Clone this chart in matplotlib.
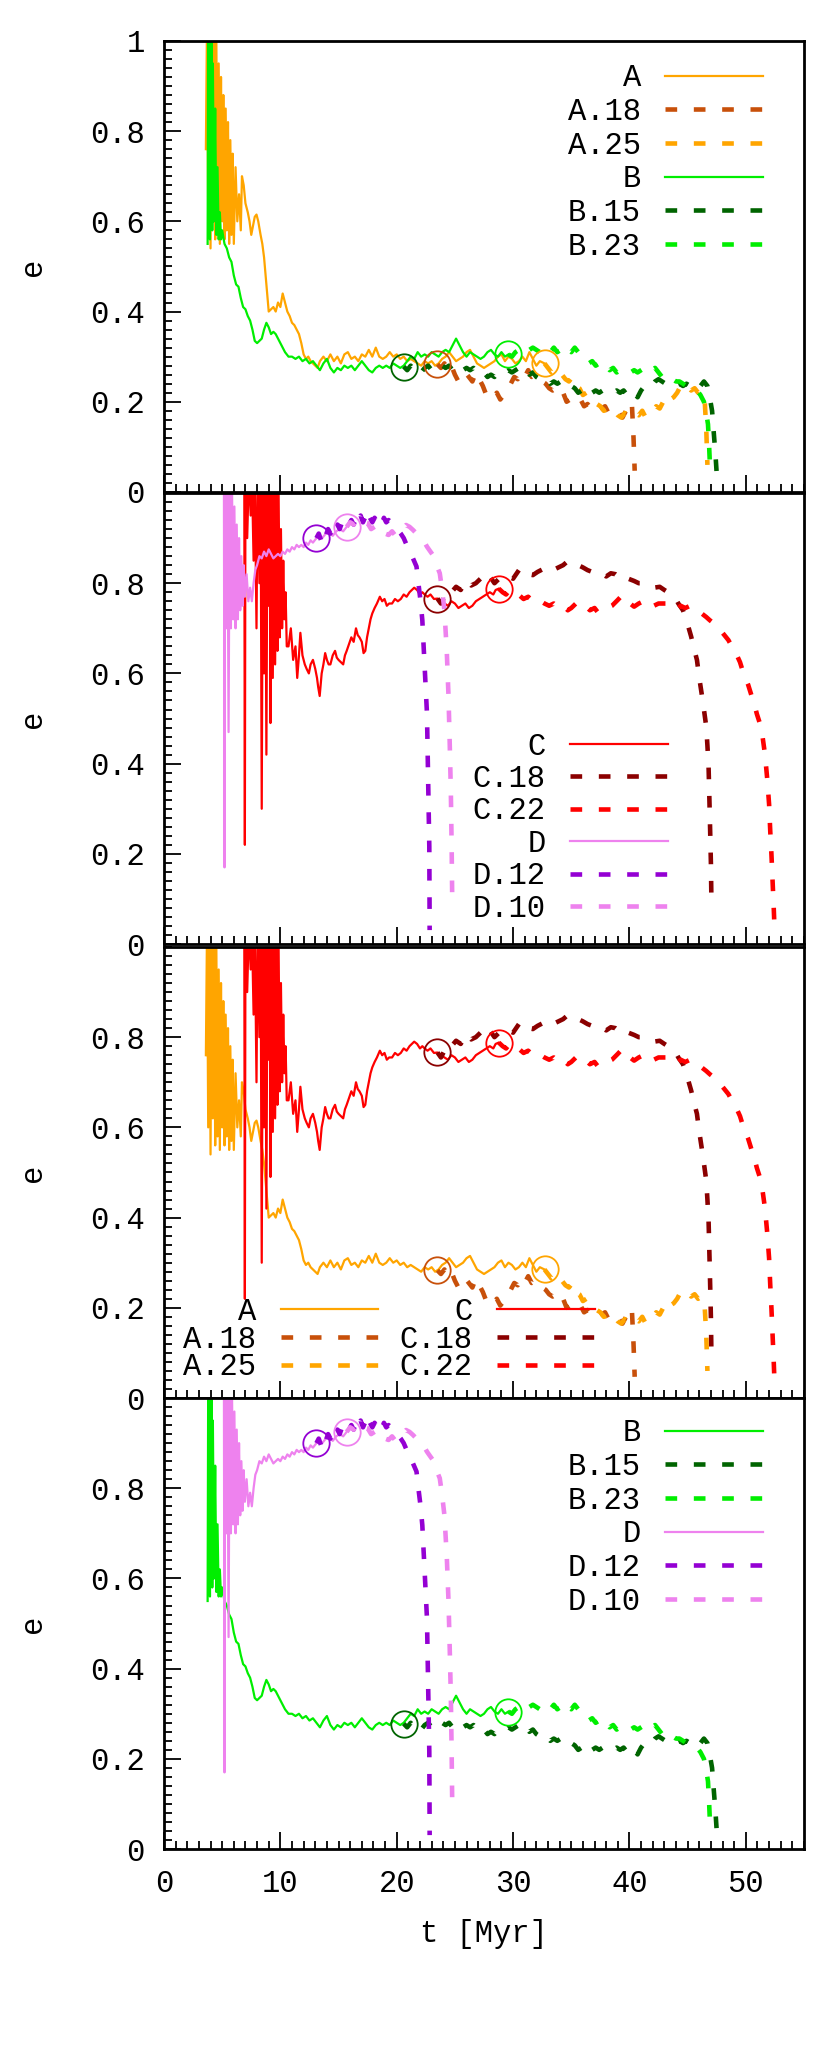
import matplotlib
matplotlib.use('Agg')
import matplotlib.pyplot as plt
from matplotlib.ticker import MultipleLocator, FixedLocator, FuncFormatter

plt.rcParams['font.family'] = ['Liberation Mono', 'DejaVu Sans Mono']
plt.rcParams['font.size'] = 22
plt.rcParams['lines.scale_dashes'] = False   # dash lengths in points

# ---------------- data (t in Myr, e) ----------------

# run A (orange, solid)
A_t = [3.6, 3.7, 3.8, 3.9, 4.0, 4.1, 4.2, 4.3, 4.4, 4.5,
       4.6, 4.7, 4.8, 4.9, 5.0, 5.1, 5.2, 5.3, 5.4, 5.5,
       5.6, 5.7, 5.8, 5.9, 6.0,
       6.15, 6.3, 6.45, 6.6, 6.7, 6.85, 7.0,
       7.2, 7.35, 7.5, 7.65, 7.8, 7.95, 8.1,
       8.3, 8.45, 8.6, 8.8, 9.0,
       9.2, 9.4, 9.6, 9.8, 10.0, 10.2, 10.4, 10.6, 10.8, 11.0,
       11.2, 11.4, 11.6, 11.8, 12.0, 12.2, 12.4, 12.6, 12.8, 13.0,
       13.2, 13.4,
       13.7, 14.0, 14.3, 14.6, 14.9, 15.2, 15.5, 15.8, 16.1, 16.4,
       16.7, 17.0, 17.3, 17.6, 17.9, 18.2, 18.5, 18.8, 19.1, 19.4,
       19.7, 20.0, 20.3, 20.6, 20.9, 21.2, 21.5, 21.8, 22.1, 22.4,
       22.7, 23.0, 23.3, 23.6, 23.9, 24.2, 24.5, 24.8, 25.1, 25.4,
       25.7, 26.0, 26.3, 26.6, 26.9, 27.2, 27.5, 27.8, 28.1, 28.4,
       28.7, 29.0, 29.3, 29.6, 29.9, 30.2, 30.5, 30.8, 31.1, 31.4,
       31.7, 32.0, 32.3,
       32.7]
A_e = [0.76, 1.05, 0.6, 1.05, 0.54, 1.05, 0.62, 1.05, 0.56, 1.0,
       0.58, 0.95, 0.55, 0.92, 0.6, 0.88, 0.56, 0.85, 0.58, 0.82,
       0.55, 0.78, 0.57, 0.75, 0.55,
       0.72, 0.6, 0.66, 0.58, 0.70, 0.68, 0.64,
       0.62, 0.60, 0.57, 0.59, 0.61, 0.615, 0.60,
       0.57, 0.55, 0.52, 0.46, 0.40,
       0.405, 0.41, 0.40, 0.42, 0.41, 0.44, 0.42, 0.40, 0.39, 0.375,
       0.37, 0.36, 0.35, 0.33, 0.305, 0.295, 0.30, 0.29, 0.285, 0.28,
       0.275, 0.29,
       0.30, 0.29, 0.305, 0.29, 0.30, 0.285, 0.305, 0.31, 0.295, 0.30,
       0.29, 0.305, 0.30, 0.315, 0.30, 0.32, 0.30, 0.295, 0.30, 0.31,
       0.30, 0.305, 0.295, 0.30, 0.29, 0.295, 0.29, 0.285, 0.28, 0.29,
       0.285, 0.29, 0.28, 0.285, 0.295, 0.30, 0.31, 0.30, 0.29, 0.295,
       0.30, 0.31, 0.315, 0.30, 0.285, 0.28, 0.275, 0.28, 0.285, 0.29,
       0.30, 0.305, 0.29, 0.30, 0.295, 0.285, 0.29, 0.30, 0.29, 0.31,
       0.295, 0.28, 0.29,
       0.285]

# branch A.18 (brown, dashed)
A18_t = [23.5, 23.8, 24.1, 24.4, 24.7, 25.0, 25.3, 25.6, 25.9, 26.2,
         26.5, 26.8, 27.1, 27.4, 27.7, 28.0, 28.3, 28.6, 28.9, 29.2,
         29.5, 29.8, 30.1, 30.4, 30.7, 31.0, 31.3, 31.6, 31.9, 32.2,
         32.5, 32.8, 33.1, 33.4, 33.7, 34.0, 34.3, 34.6, 34.9, 35.2,
         35.5, 35.8, 36.1, 36.4, 36.7, 37.0, 37.3, 37.6, 37.9, 38.2,
         38.5, 38.8, 39.1, 39.4, 39.7, 40.0,
         40.2, 40.35, 40.45]
A18_e = [0.283, 0.275, 0.285, 0.27, 0.28, 0.26, 0.245, 0.25, 0.265, 0.255,
         0.245, 0.265, 0.25, 0.235, 0.215, 0.22, 0.21, 0.22, 0.205, 0.215,
         0.225, 0.24, 0.255, 0.25, 0.265, 0.255, 0.27, 0.255, 0.26, 0.25,
         0.245, 0.24, 0.23, 0.225, 0.23, 0.215, 0.22, 0.20, 0.205, 0.195,
         0.20, 0.205, 0.19, 0.195, 0.185, 0.19, 0.18, 0.185, 0.19, 0.175,
         0.18, 0.17, 0.175, 0.165, 0.18, 0.195,
         0.20, 0.12, 0.047]

# branch A.25 (orange, dashed)
A25_t = [32.7,
         33.0, 33.3, 33.6, 33.9, 34.2, 34.5, 34.8, 35.1, 35.4, 35.7,
         36.0, 36.3, 36.6, 36.9, 37.2, 37.5, 37.8, 38.1, 38.4, 38.7,
         39.0, 39.3, 39.6, 39.9, 40.2, 40.5, 40.8, 41.1, 41.4, 41.7,
         42.0, 42.3, 42.6, 42.9, 43.2, 43.5, 43.8, 44.1, 44.4, 44.7,
         45.0, 45.3, 45.6, 45.9, 46.2,
         46.45, 46.6, 46.7]
A25_e = [0.285,
         0.275, 0.265, 0.27, 0.255, 0.26, 0.25, 0.245, 0.255, 0.235, 0.23,
         0.215, 0.22, 0.205, 0.20, 0.195, 0.19, 0.18, 0.185, 0.175, 0.18,
         0.17, 0.165, 0.175, 0.17, 0.18, 0.175, 0.17, 0.18, 0.165, 0.175,
         0.18, 0.19, 0.185, 0.20, 0.19, 0.205, 0.21, 0.22, 0.235, 0.24,
         0.235, 0.225, 0.23, 0.22, 0.225,
         0.21, 0.14, 0.06]

# run B (green, solid)
B_t = [3.75, 3.8, 3.85, 3.9, 3.95, 4.0, 4.05, 4.1, 4.15, 4.2,
       4.3, 4.4, 4.5, 4.6, 4.7, 4.8, 4.9, 5.0,
       5.2, 5.4, 5.6, 5.8, 6.0, 6.2, 6.4, 6.6, 6.8, 7.0,
       7.2, 7.4, 7.6, 7.8, 8.0, 8.2, 8.4, 8.6, 8.8, 9.0,
       9.2, 9.4, 9.6, 9.8, 10.0,
       10.4, 10.7, 11.0, 11.3, 11.6, 11.9, 12.2, 12.5, 12.8, 13.1,
       13.4, 13.7, 14.0, 14.3, 14.6, 14.9, 15.2, 15.5, 15.8, 16.1,
       16.4, 16.7, 17.0, 17.3, 17.6, 17.9, 18.2, 18.5, 18.8, 19.1,
       19.4, 19.7, 20.0, 20.3, 20.6, 20.9, 21.2, 21.5, 21.8, 22.1,
       22.4, 22.7, 23.0, 23.3, 23.6, 23.9, 24.2, 24.5, 24.8, 25.1,
       25.4, 25.7, 26.0, 26.3, 26.6, 26.9, 27.2, 27.5, 27.8, 28.1,
       28.4, 28.7, 29.0, 29.3, 29.6]
B_e = [0.55, 1.05, 0.6, 1.05, 0.56, 1.05, 0.62, 1.05, 0.58, 0.95,
       0.6, 0.85, 0.57, 0.72, 0.56, 0.62, 0.56, 0.58,
       0.55, 0.54, 0.52, 0.51, 0.48, 0.46, 0.455, 0.43, 0.41, 0.405,
       0.39, 0.38, 0.36, 0.335, 0.33, 0.335, 0.34, 0.36, 0.375, 0.365,
       0.35, 0.355, 0.35, 0.34, 0.33,
       0.31, 0.30, 0.30, 0.295, 0.30, 0.29, 0.295, 0.285, 0.29, 0.28,
       0.27, 0.285, 0.295, 0.275, 0.265, 0.275, 0.27, 0.28, 0.275, 0.28,
       0.27, 0.28, 0.29, 0.28, 0.27, 0.265, 0.275, 0.28, 0.275, 0.28,
       0.275, 0.285, 0.28, 0.275, 0.28, 0.29, 0.30, 0.295, 0.31, 0.30,
       0.305, 0.30, 0.31, 0.305, 0.30, 0.31, 0.315, 0.31, 0.325, 0.34,
       0.325, 0.31, 0.30, 0.31, 0.305, 0.30, 0.295, 0.30, 0.31, 0.315,
       0.305, 0.30, 0.31, 0.30, 0.305]

# branch B.15 (dark green, dashed)
B15_t = [20.6, 20.9, 21.2, 21.5, 21.8, 22.1, 22.4, 22.7, 23.0, 23.3,
         23.6, 23.9, 24.2, 24.5, 24.8, 25.1, 25.4, 25.7, 26.0, 26.3,
         26.6, 26.9, 27.2, 27.5, 27.8, 28.1, 28.4, 28.7, 29.0, 29.3,
         29.6, 29.9, 30.2, 30.5, 30.8, 31.1, 31.4, 31.7, 32.0, 32.3,
         32.6, 32.9, 33.2, 33.5, 33.8, 34.1, 34.4, 34.7, 35.0, 35.3,
         35.6, 35.9, 36.2, 36.5, 36.8, 37.1, 37.4, 37.7, 38.0, 38.3,
         38.6, 38.9, 39.2, 39.5, 39.8, 40.1, 40.4, 40.7, 41.0, 41.3,
         41.6, 41.9, 42.2, 42.5, 42.8, 43.1, 43.4, 43.7, 44.0, 44.3,
         44.6, 44.9, 45.2, 45.5, 45.8, 46.1, 46.4,
         46.7, 46.9, 47.1, 47.25, 47.4, 47.5]
B15_e = [0.278, 0.27, 0.28, 0.27, 0.275, 0.265, 0.275, 0.28, 0.27, 0.275,
         0.27, 0.28, 0.275, 0.28, 0.27, 0.275, 0.28, 0.27, 0.275, 0.27,
         0.275, 0.265, 0.26, 0.265, 0.255, 0.26, 0.255, 0.265, 0.26, 0.265,
         0.27, 0.265, 0.27, 0.275, 0.265, 0.27, 0.26, 0.265, 0.255, 0.25,
         0.245, 0.25, 0.24, 0.245, 0.24, 0.245, 0.235, 0.24, 0.235, 0.23,
         0.22, 0.225, 0.215, 0.225, 0.22, 0.225, 0.22, 0.225, 0.22, 0.225,
         0.22, 0.225, 0.22, 0.225, 0.215, 0.225, 0.22, 0.21, 0.225, 0.235,
         0.24, 0.235, 0.245, 0.25, 0.245, 0.24, 0.245, 0.24, 0.235, 0.24,
         0.235, 0.24, 0.235, 0.23, 0.225, 0.235, 0.245,
         0.235, 0.21, 0.18, 0.13, 0.08, 0.04]

# branch B.23 (green, dashed)
B23_t = [29.6, 29.9, 30.2, 30.5, 30.8, 31.1, 31.4, 31.7, 32.0, 32.3,
         32.6, 32.9, 33.2, 33.5, 33.8, 34.1, 34.4, 34.7, 35.0, 35.3,
         35.6, 35.9, 36.2, 36.5, 36.8, 37.1, 37.4, 37.7, 38.0, 38.3,
         38.6, 38.9, 39.2, 39.5, 39.8, 40.1, 40.4, 40.7, 41.0, 41.3,
         41.6, 41.9, 42.2, 42.5, 42.8, 43.1, 43.4, 43.7, 44.0, 44.3,
         44.6, 44.9, 45.2, 45.5, 45.8, 46.1, 46.4,
         46.6, 46.75, 46.85, 46.95]
B23_e = [0.305, 0.30, 0.31, 0.315, 0.32, 0.31, 0.315, 0.32, 0.315, 0.31,
         0.32, 0.315, 0.31, 0.32, 0.31, 0.315, 0.305, 0.315, 0.31, 0.32,
         0.31, 0.30, 0.29, 0.285, 0.29, 0.28, 0.285, 0.275, 0.28, 0.27,
         0.275, 0.265, 0.27, 0.265, 0.27, 0.265, 0.27, 0.265, 0.27, 0.275,
         0.265, 0.27, 0.275, 0.265, 0.255, 0.26, 0.25, 0.25, 0.245, 0.245,
         0.24, 0.235, 0.235, 0.23, 0.225, 0.215, 0.20,
         0.175, 0.15, 0.10, 0.04]

# run C (red, solid)
C_t = [6.9, 6.95, 7.0, 7.15, 7.3, 7.45, 7.55, 7.7, 7.8, 7.95,
       8.05, 8.2, 8.3, 8.4, 8.5, 8.6, 8.7, 8.8, 8.9, 9.0,
       9.1, 9.15, 9.25, 9.35, 9.45, 9.55, 9.65, 9.75, 9.85, 9.95,
       10.05, 10.15, 10.25, 10.35, 10.45, 10.55,
       10.7, 10.9, 11.1, 11.3, 11.45, 11.6, 11.72, 11.9, 12.1, 12.26,
       12.45, 12.6, 12.8, 13.0, 13.15, 13.25, 13.38, 13.55, 13.7, 13.85,
       14.0, 14.15, 14.3, 14.5, 14.7, 14.85, 15.0, 15.2, 15.4, 15.55,
       15.7, 15.9, 16.1, 16.3, 16.5, 16.65, 16.8, 17.0, 17.15, 17.3,
       17.45, 17.6, 17.75, 17.9, 18.1, 18.3, 18.55, 18.75, 18.95, 19.15,
       19.35, 19.6, 19.85, 20.1, 20.35, 20.6, 20.85, 21.1, 21.3, 21.5,
       21.75, 22.0, 22.2, 22.4, 22.65, 22.9, 23.2, 23.5, 23.8, 24.1,
       24.4, 24.7, 25.0, 25.3, 25.6, 25.9, 26.2, 26.5, 26.8, 27.1,
       27.4, 27.7, 28.0, 28.3, 28.5, 28.77]
C_e = [1.05, 0.22, 1.05, 0.9, 1.05, 0.95, 1.05, 0.85, 1.05, 0.7,
       1.05, 0.8, 1.05, 0.30, 1.05, 0.6, 1.05, 0.42, 1.05, 0.75,
       1.05, 0.49, 1.05, 0.59, 1.05, 0.62, 1.05, 0.65, 1.0, 0.68,
       0.92, 0.70, 0.85, 0.72, 0.78, 0.66,
       0.66, 0.70, 0.63, 0.66, 0.59, 0.64, 0.69, 0.64, 0.62, 0.61,
       0.60, 0.62, 0.63, 0.61, 0.59, 0.57, 0.55, 0.60, 0.62, 0.645,
       0.63, 0.62, 0.62, 0.64, 0.65, 0.635, 0.63, 0.625, 0.62, 0.64,
       0.65, 0.665, 0.68, 0.67, 0.70, 0.685, 0.68, 0.67, 0.645, 0.65,
       0.68, 0.70, 0.72, 0.733, 0.745, 0.755, 0.77, 0.76, 0.765, 0.75,
       0.755, 0.755, 0.765, 0.76, 0.765, 0.775, 0.77, 0.78, 0.785, 0.79,
       0.785, 0.775, 0.78, 0.775, 0.77, 0.775, 0.765, 0.766, 0.76, 0.755,
       0.75, 0.76, 0.755, 0.745, 0.75, 0.755, 0.745, 0.75, 0.76, 0.765,
       0.77, 0.775, 0.78, 0.775, 0.785, 0.788]

# branch C.18 (dark red, dashed)
C18_t = [23.5, 23.8, 24.1, 24.4, 24.7, 25.1, 25.5, 26.0, 26.4, 26.8,
         27.2, 27.6, 28.0, 28.4, 28.8, 29.2, 29.6, 30.0, 30.5, 30.9,
         31.3, 31.7, 32.1, 32.7, 33.1, 33.5, 33.9, 34.3, 34.8, 35.2,
         35.6, 36.0, 36.4, 36.8, 37.2, 37.6, 38.0, 38.4, 38.8, 39.2,
         39.5, 39.9, 40.4, 40.8, 41.3, 41.7, 42.1, 42.6, 43.0, 43.5,
         43.9, 44.2, 44.6, 44.9, 45.3, 45.6, 45.8, 46.0, 46.2, 46.4,
         46.6, 46.7, 46.8, 46.9, 47.0, 47.05]
C18_e = [0.766, 0.755, 0.77, 0.765, 0.78, 0.792, 0.785, 0.807, 0.795, 0.80,
         0.81, 0.80, 0.815, 0.80, 0.81, 0.805, 0.815, 0.81, 0.829, 0.815,
         0.82, 0.818, 0.825, 0.833, 0.825, 0.83, 0.835, 0.84, 0.851, 0.845,
         0.84, 0.835, 0.829, 0.825, 0.818, 0.822, 0.815, 0.822, 0.82, 0.812,
         0.818, 0.81, 0.805, 0.80, 0.80, 0.795, 0.79, 0.792, 0.785, 0.777,
         0.77, 0.755, 0.74, 0.718, 0.682, 0.65, 0.63, 0.59, 0.556, 0.52,
         0.482, 0.44, 0.393, 0.29, 0.179, 0.083]

# branch C.22 (red, dashed)
C22_t = [28.77, 29.1, 29.4, 29.7, 30.0, 30.5, 30.9, 31.3, 31.7, 32.1,
         32.7, 33.1, 33.5, 33.9, 34.3, 34.7, 35.0, 35.4, 35.8, 36.2,
         36.6, 37.0, 37.3, 37.7, 38.1, 38.5, 39.0, 39.4, 39.8, 40.4,
         40.8, 41.2, 41.7, 42.1, 42.5, 43.1, 43.5, 44.0, 44.4, 44.8,
         45.3, 45.8, 46.2, 46.6, 46.9, 47.3, 47.6, 48.0, 48.5, 48.8,
         49.15, 49.5, 49.8, 50.2, 50.5, 50.75, 50.95, 51.2, 51.4, 51.65,
         51.85, 52.0, 52.1, 52.2, 52.3, 52.4, 52.45]
C22_e = [0.788, 0.78, 0.775, 0.785, 0.775, 0.774, 0.765, 0.77, 0.76, 0.765,
         0.755, 0.75, 0.755, 0.745, 0.75, 0.74, 0.745, 0.755, 0.745, 0.75,
         0.74, 0.745, 0.735, 0.737, 0.745, 0.75, 0.763, 0.774, 0.76, 0.748,
         0.755, 0.76, 0.763, 0.75, 0.755, 0.755, 0.745, 0.74, 0.75, 0.745,
         0.751, 0.74, 0.733, 0.725, 0.718, 0.71, 0.703, 0.69, 0.674, 0.66,
         0.645, 0.625, 0.60, 0.575, 0.55, 0.53, 0.51, 0.49, 0.467, 0.42,
         0.363, 0.31, 0.25, 0.20, 0.14, 0.08, 0.046]

# run D (violet, solid)
D_t = [5.15, 5.2, 5.25, 5.35, 5.45, 5.55, 5.65, 5.75, 5.85, 5.95,
       6.05, 6.15, 6.25, 6.35, 6.45, 6.55, 6.65, 6.75, 6.85, 6.95,
       7.1, 7.25, 7.4, 7.55, 7.7, 7.85, 8.0, 8.2, 8.4, 8.6,
       8.8, 9.0, 9.2, 9.4, 9.6, 9.8, 10.0, 10.2, 10.4, 10.6,
       10.8, 11.0, 11.2, 11.4, 11.6, 11.8, 12.0, 12.2, 12.4, 12.6,
       12.8, 13.1, 13.3, 13.6, 13.9, 14.2, 14.5, 14.8, 15.1, 15.4,
       15.7]
D_e = [1.05, 0.17, 1.05, 0.7, 1.05, 0.47, 1.05, 0.7, 1.0, 0.72,
       0.97, 0.70, 0.93, 0.72, 0.9, 0.74, 0.86, 0.75, 0.84, 0.77,
       0.82, 0.76, 0.79, 0.76, 0.80, 0.83, 0.84, 0.86, 0.855, 0.87,
       0.86, 0.875, 0.865, 0.855, 0.86, 0.865, 0.86, 0.87, 0.865, 0.875,
       0.87, 0.88, 0.875, 0.885, 0.88, 0.885, 0.88, 0.89, 0.885, 0.895,
       0.89, 0.90, 0.905, 0.90, 0.91, 0.915, 0.905, 0.915, 0.92, 0.915,
       0.925]

# branch D.12 (dark violet, dashed)
D12_t = [13.1, 13.3, 13.5, 13.7, 13.9, 14.1, 14.3, 14.5, 14.7, 14.9,
         15.1, 15.3, 15.5, 15.7, 15.9, 16.1, 16.3, 16.5, 16.7, 16.9,
         17.1, 17.3, 17.5, 17.7, 17.9, 18.1, 18.3, 18.5, 18.7, 18.9,
         19.1, 19.3, 19.5, 19.7, 19.9, 20.1,
         20.35, 20.6, 20.85, 21.1, 21.4, 21.7, 21.9, 22.05, 22.2, 22.4,
         22.6, 22.7, 22.8, 22.83]
D12_e = [0.90, 0.91, 0.895, 0.915, 0.905, 0.92, 0.91, 0.925, 0.915, 0.93,
         0.92, 0.935, 0.925, 0.935, 0.93, 0.94, 0.93, 0.945, 0.935, 0.95,
         0.935, 0.947, 0.93, 0.945, 0.935, 0.945, 0.935, 0.94, 0.93, 0.945,
         0.935, 0.94, 0.935, 0.93, 0.925, 0.918,
         0.91, 0.90, 0.885, 0.873, 0.855, 0.837, 0.792, 0.76, 0.718, 0.615,
         0.511, 0.363, 0.216, 0.031]

# branch D.10 (violet, dashed)
D10_t = [15.7, 16.0, 16.3, 16.6, 16.9, 17.2, 17.5, 17.8, 18.1, 18.4,
         18.7, 19.0, 19.3, 19.6, 19.9, 20.2, 20.5, 20.8, 21.1, 21.4,
         21.7, 22.0, 22.3, 22.6, 22.9, 23.2, 23.5,
         23.7, 23.9, 24.1, 24.3, 24.45, 24.55, 24.65, 24.72, 24.77]
D10_e = [0.925, 0.935, 0.93, 0.94, 0.93, 0.935, 0.933, 0.92, 0.925, 0.915,
         0.92, 0.91, 0.907, 0.915, 0.905, 0.91, 0.92, 0.929, 0.925, 0.918,
         0.91, 0.903, 0.895, 0.881, 0.87, 0.859, 0.835,
         0.822, 0.785, 0.74, 0.65, 0.55, 0.45, 0.34, 0.216, 0.098]

# branching points marked with open circles
branch_names = ['A.18', 'A.25', 'B.15', 'B.23', 'C.18', 'C.22', 'D.12', 'D.10']
branch_t = [23.5, 32.7, 20.6, 29.6, 23.5, 28.8, 13.1, 15.7]
branch_e = [0.283, 0.285, 0.278, 0.305, 0.766, 0.788, 0.90, 0.925]

# name -> (t, e, colour, dashed)
runs = {
    'A':    (A_t, A_e, '#ffa500', False),
    'A.18': (A18_t, A18_e, '#c8500a', True),
    'A.25': (A25_t, A25_e, '#ffa500', True),
    'B':    (B_t, B_e, '#00ee00', False),
    'B.15': (B15_t, B15_e, '#006400', True),
    'B.23': (B23_t, B23_e, '#00ee00', True),
    'C':    (C_t, C_e, '#ff0000', False),
    'C.18': (C18_t, C18_e, '#8b0000', True),
    'C.22': (C22_t, C22_e, '#ff0000', True),
    'D':    (D_t, D_e, '#ee82ee', False),
    'D.12': (D12_t, D12_e, '#9400d3', True),
    'D.10': (D10_t, D10_e, '#ee82ee', True),
}

# panels top to bottom: runs shown + legend placement
panels = [
    (['A', 'A.18', 'A.25', 'B', 'B.15', 'B.23'], dict(loc='upper right', bbox_to_anchor=(0.936, 0.95), ncol=1, labelspacing=0.12)),
    (['C', 'C.18', 'C.22', 'D', 'D.12', 'D.10'], dict(loc='lower right', bbox_to_anchor=(0.7875, 0.045), ncol=1, labelspacing=0.08)),
    (['A', 'A.18', 'A.25', 'C', 'C.18', 'C.22'], dict(loc='lower left', bbox_to_anchor=(0.03, 0.035), ncol=2, labelspacing=-0.08, columnspacing=0.7)),
    (['B', 'B.15', 'B.23', 'D', 'D.12', 'D.10'], dict(loc='upper right', bbox_to_anchor=(0.936, 0.955), ncol=1, labelspacing=0.12)),
]

fig = plt.figure(figsize=(8.22, 20.55), dpi=100)
bottoms = [0.7606, 0.5406, 0.3197, 0.1002]


def fmt_e(v, pos):
    if abs(v) < 1e-9:
        return '0'
    if abs(v - 1) < 1e-9:
        return '1'
    return '%.1f' % v


for i, (names, legopts) in enumerate(panels):
    ax = fig.add_axes([0.1995, bottoms[i], 0.7786, 0.2195])
    for n in names:
        t, e, col, dashed = runs[n]
        if dashed:
            ax.plot(t, e, color=col, lw=3.3, dashes=(8.4, 12.0), dash_capstyle='butt', label=n)
        else:
            ax.plot(t, e, color=col, lw=1.6, label=n)
    # open circles at the branching points
    for n, bt, be in zip(branch_names, branch_t, branch_e):
        if n in names:
            ax.plot(bt, be, 'o', ms=19, mfc='none', mec=runs[n][2], mew=1.3)

    ax.set_xlim(0, 55)
    ax.set_ylim(0, 1)
    ax.xaxis.set_major_locator(MultipleLocator(10))
    ax.xaxis.set_minor_locator(MultipleLocator(1))
    if i == 0:
        ax.yaxis.set_major_locator(MultipleLocator(0.2))
    else:
        ax.yaxis.set_major_locator(FixedLocator([0, 0.2, 0.4, 0.6, 0.8]))
    ax.yaxis.set_minor_locator(MultipleLocator(0.02))
    ax.yaxis.set_major_formatter(FuncFormatter(fmt_e))
    ax.tick_params(which='both', direction='in', top=False, right=False, width=1.3)
    ax.tick_params(which='major', length=12.5, pad=14)
    ax.tick_params(which='minor', length=6)
    if i < 3:
        ax.tick_params(labelbottom=False)
    for s in ax.spines.values():
        s.set_linewidth(2.0)

    ax.set_ylabel('e')
    ax.yaxis.set_label_coords(-0.182, 0.5)

    ax.legend(frameon=False, markerfirst=False, handlelength=3.2, handletextpad=0.8,
              borderpad=0, borderaxespad=0, **legopts)

    if i == 3:
        ax.set_xlabel('t [Myr]')
        ax.xaxis.set_label_coords(0.5, -0.155)

plt.savefig('out.png', dpi=100)
